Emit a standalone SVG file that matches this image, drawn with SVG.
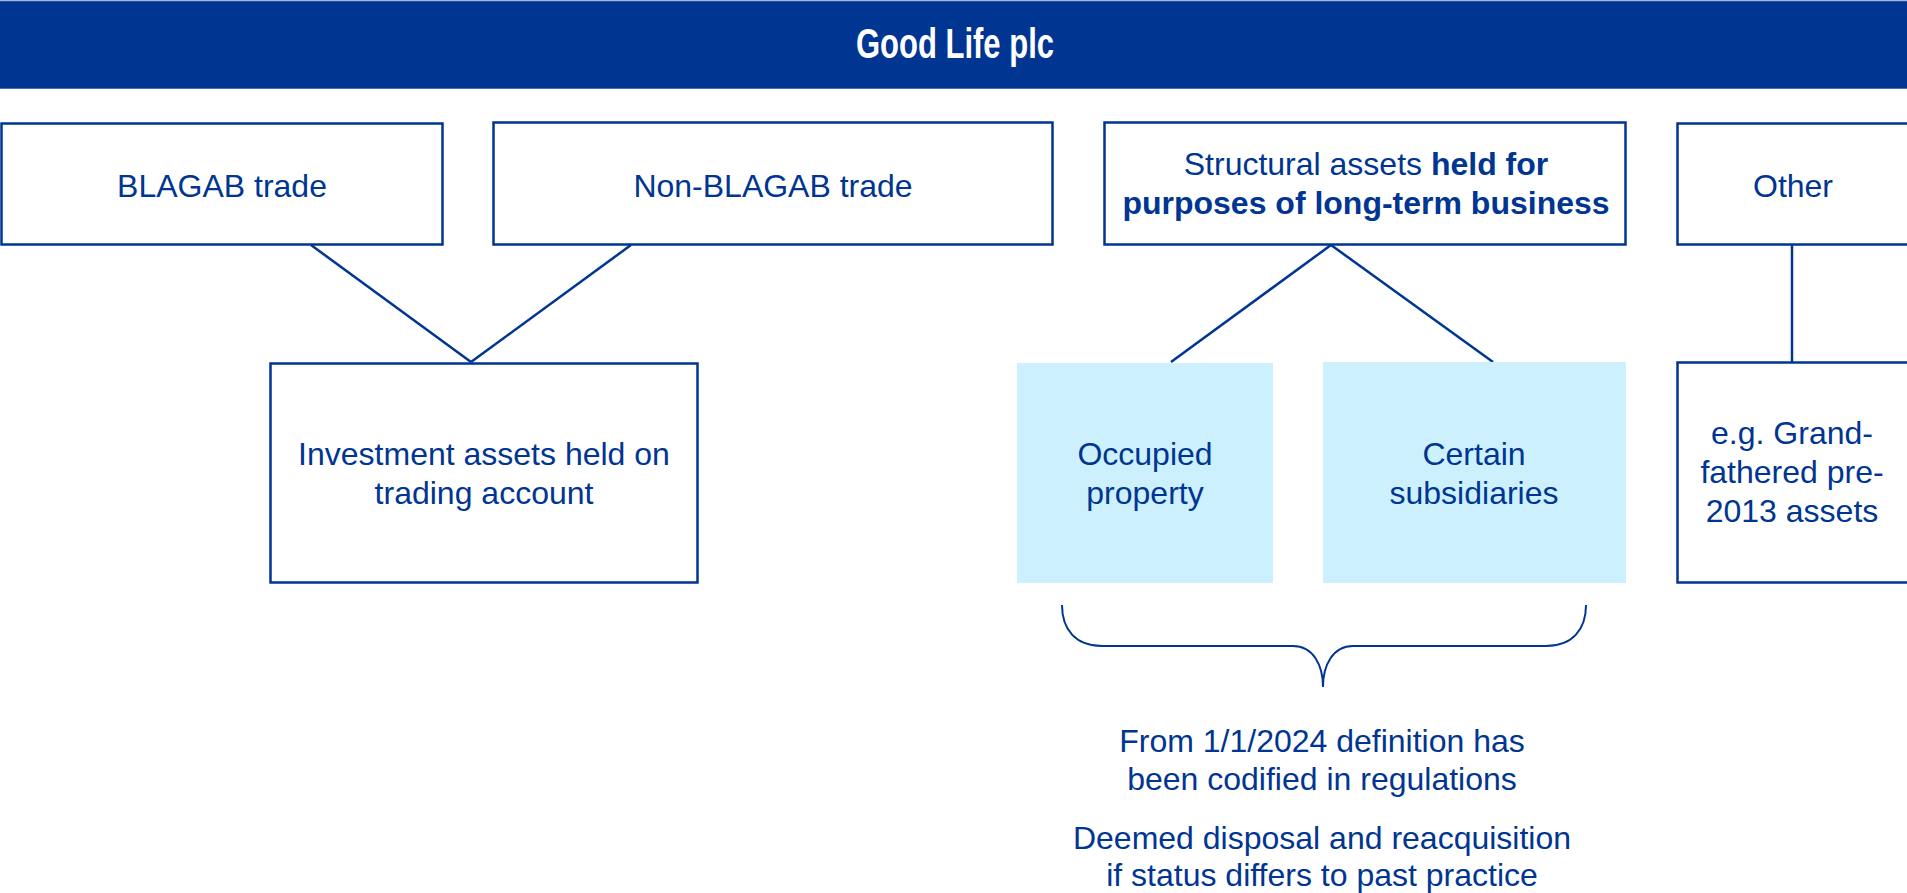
<svg xmlns="http://www.w3.org/2000/svg" width="1907" height="893" viewBox="0 0 1907 893">
<style>
.box{fill:#ffffff;stroke:#003591;stroke-width:2.5}
.fill{fill:#CCF0FD;stroke:none}
.t{font-family:"Liberation Sans",Arial,sans-serif;font-size:32px;fill:#003591;text-anchor:middle}
.b{font-weight:bold}
.ln{stroke:#003591;stroke-width:2.5;fill:none}
.brace{stroke:#003591;stroke-width:2;fill:none}
</style>
<rect width="1907" height="893" fill="#ffffff"/>
<g id="header">
<rect x="0" y="1" width="1907" height="88" fill="#003591"/>
<line x1="0" y1="1" x2="1907" y2="1" stroke="#4A6FB0" stroke-width="1"/>
<line x1="0" y1="88.5" x2="1907" y2="88.5" stroke="#4A6FB0" stroke-width="1"/>
<text x="955" y="58" font-family="'Liberation Sans',Arial,sans-serif" font-weight="bold" font-size="42" fill="#ffffff" text-anchor="middle" textLength="198" lengthAdjust="spacingAndGlyphs">Good Life plc</text>
</g>
<g id="connectors">
<line class="ln" x1="311" y1="245" x2="471" y2="362"/>
<line class="ln" x1="631" y1="245" x2="471" y2="362"/>
<line class="ln" x1="1331" y1="245" x2="1171" y2="362"/>
<line class="ln" x1="1331" y1="245" x2="1493" y2="362"/>
<line class="ln" x1="1792" y1="245" x2="1792" y2="362"/>
</g>
<g id="blagab">
<rect class="box" x="1.5" y="123.5" width="441" height="121"/>
<text class="t" x="222" y="197">BLAGAB trade</text>
</g>
<g id="nonblagab">
<rect class="box" x="493.5" y="122.5" width="559" height="122"/>
<text class="t" x="773" y="197">Non-BLAGAB trade</text>
</g>
<g id="structural">
<rect class="box" x="1104.5" y="122.5" width="521" height="122"/>
<text class="t" x="1366" y="175">Structural assets <tspan class="b">held for</tspan></text>
<text class="t b" x="1366" y="214">purposes of long-term business</text>
</g>
<g id="other">
<rect class="box" x="1677.5" y="123.5" width="240" height="121"/>
<text class="t" x="1793" y="197">Other</text>
</g>
<g id="investment">
<rect class="box" x="270.5" y="363.5" width="427" height="219"/>
<text class="t" x="484" y="465">Investment assets held on</text>
<text class="t" x="484" y="504">trading account</text>
</g>
<g id="occupied">
<rect class="fill" x="1017" y="363" width="256" height="220"/>
<text class="t" x="1145" y="465">Occupied</text>
<text class="t" x="1145" y="504">property</text>
</g>
<g id="certain">
<rect class="fill" x="1323" y="362" width="303" height="221"/>
<text class="t" x="1474" y="465">Certain</text>
<text class="t" x="1474" y="504">subsidiaries</text>
</g>
<g id="grandfathered">
<rect class="box" x="1677.5" y="362.5" width="240" height="220"/>
<text class="t" x="1792" y="444">e.g. Grand-</text>
<text class="t" x="1792" y="483">fathered pre-</text>
<text class="t" x="1792" y="522">2013 assets</text>
</g>
<g id="brace">
<path class="brace" d="M1062,605 C1062,630 1076,646 1102,646 L1293,646 C1313,646 1323,665 1323,687 C1323,665 1333,646 1353,646 L1546,646 C1572,646 1586,630 1586,605"/>
</g>
<g id="notes">
<text class="t" x="1322" y="752">From 1/1/2024 definition has</text>
<text class="t" x="1322" y="790">been codified in regulations</text>
<text class="t" x="1322" y="849">Deemed disposal and reacquisition</text>
<text class="t" x="1322" y="886">if status differs to past practice</text>
</g>
</svg>
